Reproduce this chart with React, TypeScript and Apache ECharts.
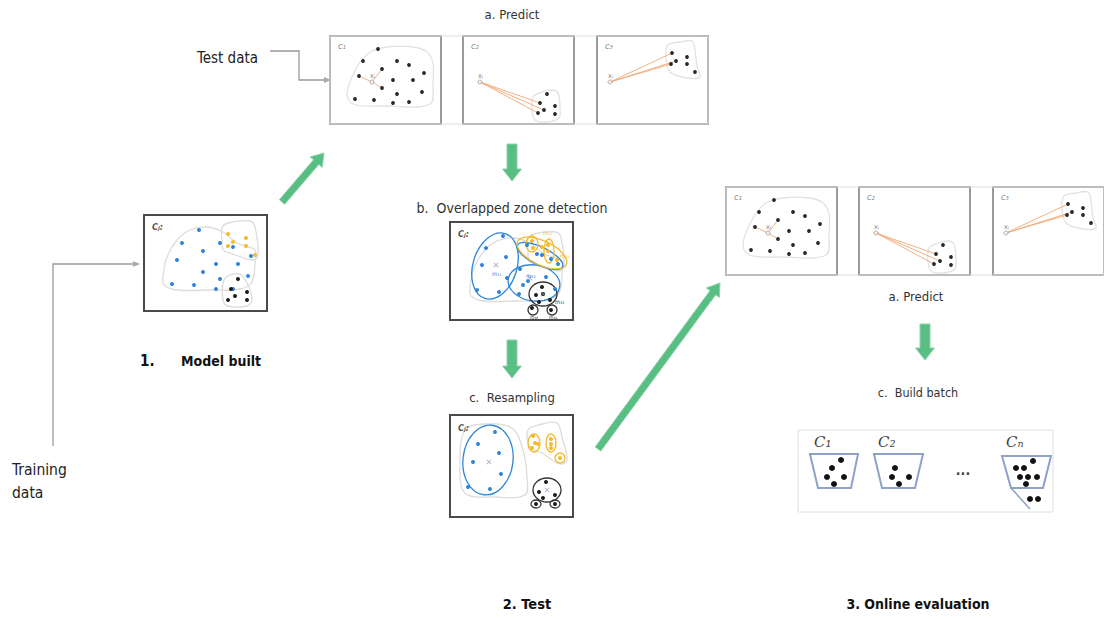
import React, { useEffect, useRef } from "react";
import * as echarts from "echarts";

const FONT = "'DejaVu Sans Condensed', 'Liberation Sans Narrow', 'Roboto', sans-serif";

// ---------- Predict panels (local coordinates inside each panel) ----------
const predictC1Points = [[48,14],[33,26],[67,26],[79,30],[94,38],[52,34],[29,41],[63,45],[83,45],[52,53],[67,59],[92,57],[25,64],[44,65],[63,68],[79,67]];
const predictC1Query = [42, 47];
const predictC1Neighbors = [[52,34],[29,41],[52,53]];
const predictC1Hull = [[17,58],[27,32],[40,17],[57,12],[83,12],[97,17],[103,28],[103,48],[100,69],[57,71],[23,69]];

const predictC2Points = [[84,59],[77,68],[92,71],[81,75],[75,78],[92,79]];
const predictC2Query = [17, 47];
const predictC2Neighbors = [[77,68],[81,75],[75,78]];
const predictC2Hull = [[70,62],[79,57],[89,55],[95,58],[97,72],[96,83],[84,87],[72,85],[69,75]];

const predictC3Points = [[75,18],[90,22],[79,26],[74,29],[90,29],[98,37]];
const predictC3Query = [13, 47];
const predictC3Neighbors = [[75,18],[79,26],[74,29]];
const predictC3Hull = [[71,10],[83,7],[95,6],[98,15],[100,32],[103,42],[90,43],[73,37],[69,22]];

const predictLabels = ["c\u2081", "c\u2082", "c\u2083"];

// ---------- Model built panel ----------
const modelBlue = [[55,15],[38,28],[76,28],[59,36],[33,45],[72,49],[94,49],[59,57],[104,61],[76,64],[28,69],[50,70],[72,74],[89,32],[107,41],[89,74]];
const modelYellow = [[84,19],[102,23],[89,27],[84,31],[102,31],[111,40]];
const modelBlack = [[94,64],[87,74],[91,81],[103,77],[84,85],[103,85]];
const hullBig = [[19,62],[23,42],[33,25],[46,15],[63,12],[79,17],[93,28],[111,35],[111,48],[108,67],[96,74],[63,75],[33,75],[20,70]];
const hullTop = [[78,13],[84,8],[106,6],[111,12],[114,40],[109,45],[86,38],[79,35],[78,25]];
const hullBottom = [[79,68],[84,61],[96,59],[104,70],[108,85],[103,91],[84,91],[79,85]];

// ---------- Overlapped zone detection panel ----------
const overBlue = [[53,14],[36,26],[56,35],[32,43],[57,56],[27,68],[49,70],[70,47],[73,63],[69,72],[96,55],[105,67],[77,23],[87,32],[101,37],[108,42],[92,33],[78,59]];
const overYellow = [[82,19],[83,26],[92,25],[98,23],[98,29],[107,38]];
const overBlack = [[92,65],[86,73],[93,72],[100,78],[89,80],[82,86],[101,88]];
const overCentroids = [[46,43],[80,56],[93,72]];

// ---------- Resampling panel ----------
const resBlue = [[45,17],[28,29],[49,38],[23,47],[51,59],[18,72],[40,74]];
const resYellow = [[83,21],[85,28],[88,29],[82,33],[101,24],[101,29],[101,33],[110,43]];
const resBlack = [[96,67],[89,77],[105,80],[93,83],[86,89],[105,89]];
const resCentroids = [[39,47],[97,75]];
const resHullLeft = [[15,15],[35,9],[62,13],[73,35],[77,62],[75,80],[45,82],[15,78],[10,48]];
const resHullRight = [[78,15],[92,9],[107,8],[112,22],[117,45],[110,49],[92,38],[80,32]];

// ---------- Build batch ----------
const batchC1 = [[43,30],[34,38],[29,47],[46,47],[36,54]];
const batchC2 = [[97,38],[94,47],[111,47],[101,54]];
const batchCn = [[235,31],[218,38],[226,38],[222,47],[230,47],[239,47],[228,54],[232,69],[240,69]];
const batchLabels = ["C\u2081", "C\u2082", "C\u2099"];

// layout origins
const topStrip = [[330,35],[463,35],[597,35]];
const bottomStrip = [[726,186],[859,186],[993,186]];
const modelOrigin = [144,215];
const overOrigin = [450,222];
const resOrigin = [450,415];
const batchOrigin = [798,430];

const BLUE = "#2f86d8";
const YELLOW = "#f6b92b";
const BLACK = "#1e1e1e";
const GREEN = "#58be84";

function shift(pts: number[][], o: number[]) {
  return pts.map((p) => [p[0] + o[0], p[1] + o[1]]);
}

function dots(pts: number[][], o: number[], color: string, size: number, z = 5): any {
  return {
    type: "scatter",
    data: shift(pts, o),
    symbol: "circle",
    symbolSize: size,
    itemStyle: { color, opacity: 1 },
    silent: true,
    z,
  };
}

function arrowPoints(x1: number, y1: number, x2: number, y2: number, sw: number, hw: number, hl: number) {
  const dx = x2 - x1, dy = y2 - y1;
  const len = Math.sqrt(dx * dx + dy * dy);
  const ux = dx / len, uy = dy / len;
  const px = -uy, py = ux;
  const bx = x2 - ux * hl, by = y2 - uy * hl;
  return [
    [x1 + px * sw / 2, y1 + py * sw / 2],
    [bx + px * sw / 2, by + py * sw / 2],
    [bx + px * hw / 2, by + py * hw / 2],
    [x2, y2],
    [bx - px * hw / 2, by - py * hw / 2],
    [bx - px * sw / 2, by - py * sw / 2],
    [x1 - px * sw / 2, y1 - py * sw / 2],
  ];
}

function text(t: string, x: number, y: number, size: number, opts: any = {}) {
  return {
    type: "text",
    z: 20,
    silent: true,
    style: {
      text: t,
      x,
      y,
      fill: opts.fill || "#222",
      fontSize: size,
      fontFamily: opts.family || FONT,
      fontWeight: opts.bold ? "bold" : "normal",
      fontStyle: opts.italic ? "italic" : "normal",
      align: opts.align || "left",
      verticalAlign: "middle",
      textAlign: opts.align || "left",
      textVerticalAlign: "middle",
    },
  };
}

function hull(pts: number[][], o: number[], stroke = "#dcdcdc") {
  return {
    type: "polygon",
    z: 1,
    silent: true,
    shape: { points: shift(pts, o), smooth: 0.35 },
    style: { fill: "none", stroke, lineWidth: 1.3 },
  };
}

function ellipse(cx: number, cy: number, rx: number, ry: number, rot: number, o: number[], stroke: string) {
  return {
    type: "ellipse",
    z: 3,
    silent: true,
    x: o[0] + cx,
    y: o[1] + cy,
    rotation: rot,
    shape: { cx: 0, cy: 0, rx, ry },
    style: { fill: "none", stroke, lineWidth: 1.3 },
  };
}

function frame(x: number, y: number, w: number, h: number, stroke: string, lw: number) {
  return {
    type: "rect",
    z: 2,
    silent: true,
    shape: { x, y, width: w, height: h },
    style: { fill: "none", stroke, lineWidth: lw },
  };
}

function App() {
  const ref = useRef<HTMLDivElement>(null);
  useEffect(() => {
    if (!ref.current) return;
    const chart = echarts.init(ref.current, undefined, { renderer: "svg" });

    const series: any[] = [];
    const graphic: any[] = [];

    const predictSets = [
      { pts: predictC1Points, q: predictC1Query, nb: predictC1Neighbors, hull: predictC1Hull },
      { pts: predictC2Points, q: predictC2Query, nb: predictC2Neighbors, hull: predictC2Hull },
      { pts: predictC3Points, q: predictC3Query, nb: predictC3Neighbors, hull: predictC3Hull },
    ];

    [topStrip, bottomStrip].forEach((strip) => {
      graphic.push(frame(strip[0][0], strip[0][1] + 1, strip[2][0] + 111 - strip[0][0], 88, "#dedede", 1));
      strip.forEach((o, i) => {
        const s = predictSets[i];
        graphic.push({
          type: "rect", z: 1, silent: true,
          shape: { x: o[0], y: o[1] + 1, width: 111, height: 88 },
          style: { fill: "#fff", stroke: "#9a9a9a", lineWidth: 2 },
        });
        graphic.push(hull(s.hull, o, "#e2e2e2"));
        graphic.push(text(predictLabels[i], o[0] + 8, o[1] + 11, 9, { fill: "#888", italic: true }));
        graphic.push(text("x\u2C7C", o[0] + s.q[0] - 2, o[1] + s.q[1] - 6, 7, { fill: "#888" }));
        series.push({
          type: "lines",
          coordinateSystem: "cartesian2d",
          silent: true,
          z: 3,
          lineStyle: { color: "#f2a878", width: 1, opacity: 0.9 },
          data: s.nb.map((n) => ({ coords: [[o[0] + s.q[0], o[1] + s.q[1]], [o[0] + n[0], o[1] + n[1]]] })),
        });
        series.push(dots(s.pts, o, "#2a2a2a", 3.8));
        series.push({
          type: "scatter", silent: true, z: 6,
          data: shift([s.q], o), symbol: "circle", symbolSize: 4,
          itemStyle: { color: "#fff", borderColor: "#999", borderWidth: 1 },
        });
      });
    });

    // model built panel
    const mo = modelOrigin;
    graphic.push({ type: "rect", z: 1, silent: true, shape: { x: mo[0], y: mo[1], width: 123, height: 96 }, style: { fill: "#fff", stroke: "#4a4a4a", lineWidth: 2 } });
    graphic.push(hull(hullBig, mo), hull(hullTop, mo), hull(hullBottom, mo));
    graphic.push(text("C\u2C7C:", mo[0] + 8, mo[1] + 12, 9, { fill: "#555", bold: true, italic: true }));
    series.push(dots(modelBlue, mo, BLUE, 4), dots(modelYellow, mo, YELLOW, 4), dots(modelBlack, mo, BLACK, 4));

    // overlapped zone panel
    const oo = overOrigin;
    graphic.push({ type: "rect", z: 1, silent: true, shape: { x: oo[0], y: oo[1], width: 123, height: 98 }, style: { fill: "#fff", stroke: "#4a4a4a", lineWidth: 2 } });
    graphic.push(hull(shift(hullBig, [1, 8]), [oo[0], oo[1] - 4]), hull(hullTop, [oo[0], oo[1] + 4]));
    graphic.push(
      ellipse(45, 44, 22, 34, -0.3, oo, BLUE),
      ellipse(84, 61, 26, 18, -0.15, oo, BLUE),
      ellipse(90, 34, 25, 9, -0.45, oo, BLUE),
      ellipse(92, 31, 27, 12, -0.45, oo, YELLOW),
      ellipse(82, 22, 6, 8, 0, oo, YELLOW),
      ellipse(99, 29, 5, 12, 0, oo, YELLOW),
      ellipse(93, 72, 14, 12, 0, oo, "#333"),
      ellipse(83, 88, 5, 5, 0, oo, "#333"),
      ellipse(102, 88, 5, 5, 0, oo, "#333"),
    );
    graphic.push(text("C\u2C7C:", oo[0] + 8, oo[1] + 12, 9, { fill: "#555", bold: true, italic: true }));
    graphic.push(
      text("m\u2081\u2081", oo[0] + 42, oo[1] + 51, 6, { fill: BLUE }),
      text("m\u2081\u2082", oo[0] + 76, oo[1] + 53, 6, { fill: BLUE }),
      text("m\u2082\u2081", oo[0] + 93, oo[1] + 10, 6, { fill: YELLOW }),
      text("m\u2082\u2082", oo[0] + 110, oo[1] + 33, 6, { fill: YELLOW }),
      text("m\u2083\u2081", oo[0] + 105, oo[1] + 79, 6, { fill: "#333" }),
      text("m\u2083\u2082", oo[0] + 80, oo[1] + 95, 5, { fill: "#333" }),
      text("m\u2083\u2083", oo[0] + 99, oo[1] + 95, 5, { fill: "#333" }),
    );
    series.push(dots(overBlue, oo, BLUE, 4), dots(overYellow, oo, YELLOW, 4), dots(overBlack, oo, BLACK, 4));
    series.push({
      type: "scatter", silent: true, z: 6, data: shift(overCentroids, oo),
      symbol: "path://M1,0L5,4L9,0L10,1L6,5L10,9L9,10L5,6L1,10L0,9L4,5L0,1Z", symbolSize: 5,
      itemStyle: { color: "#7c8fb0" },
    });

    // resampling panel
    const ro = resOrigin;
    graphic.push({ type: "rect", z: 1, silent: true, shape: { x: ro[0], y: ro[1], width: 123, height: 102 }, style: { fill: "#fff", stroke: "#4a4a4a", lineWidth: 2 } });
    graphic.push(hull(resHullLeft, ro), hull(resHullRight, ro));
    graphic.push(
      ellipse(38, 45, 25, 35, -0.12, ro, BLUE),
      ellipse(84, 28, 6, 9, 0, ro, YELLOW),
      ellipse(101, 28, 5, 9, 0, ro, YELLOW),
      ellipse(110, 43, 5, 5, 0, ro, YELLOW),
      ellipse(97, 75, 14, 12, 0, ro, "#333"),
      ellipse(86, 89, 5, 4, 0, ro, "#333"),
      ellipse(105, 89, 5, 4, 0, ro, "#333"),
    );
    graphic.push(text("C\u2C7C:", ro[0] + 8, ro[1] + 13, 9, { fill: "#555", bold: true, italic: true }));
    series.push(dots(resBlue, ro, BLUE, 4), dots(resYellow, ro, YELLOW, 4), dots(resBlack, ro, BLACK, 4));
    series.push({
      type: "scatter", silent: true, z: 6, data: shift(resCentroids, ro),
      symbol: "path://M1,0L5,4L9,0L10,1L6,5L10,9L9,10L5,6L1,10L0,9L4,5L0,1Z", symbolSize: 5,
      itemStyle: { color: "#7c8fb0" },
    });

    // build batch panel
    const bo = batchOrigin;
    graphic.push(frame(bo[0], bo[1], 255, 82, "#e0e0e0", 1));
    const buckets = [
      [[12,24],[60,24],[53,58],[20,58]],
      [[76,24],[125,24],[117,58],[84,58]],
      [[204,26],[253,26],[245,58],[213,58]],
    ];
    buckets.forEach((b, i) => {
      graphic.push({
        type: "polygon", z: 3, silent: true,
        shape: { points: shift(b, bo) },
        style: { fill: "none", stroke: "#8ea2c6", lineWidth: 2 },
      });
      graphic.push(text(batchLabels[i], bo[0] + b[0][0] + 4, bo[1] + 12, 15, { fill: "#444", italic: true, family: "'DejaVu Serif', serif" }));
    });
    graphic.push({
      type: "line", z: 3, silent: true,
      shape: { x1: bo[0] + 213, y1: bo[1] + 58, x2: bo[0] + 232, y2: bo[1] + 79 },
      style: { stroke: "#8ea2c6", lineWidth: 1.5 },
    });
    graphic.push(text("...", bo[0] + 165, bo[1] + 40, 14, { fill: "#444", bold: true, align: "center" }));
    series.push(dots(batchC1, bo, "#111", 6), dots(batchC2, bo, "#111", 6), dots(batchCn, bo, "#111", 6));

    // green arrows
    const arrows = [
      [282, 202, 324, 153, 7, 16, 12],
      [512, 144, 512, 181, 10, 19, 12],
      [512, 340, 512, 378, 10, 19, 12],
      [925, 324, 925, 360, 10, 19, 12],
      [598, 449, 720, 283, 7, 16, 12],
    ];
    arrows.forEach((a) => {
      graphic.push({
        type: "polygon", z: 4, silent: true,
        shape: { points: arrowPoints(a[0], a[1], a[2], a[3], a[4], a[5], a[6]) },
        style: { fill: GREEN, stroke: "#8fd3ab", lineWidth: 1 },
      });
    });

    // gray connectors
    graphic.push({
      type: "polyline", z: 4, silent: true,
      shape: { points: [[270, 51], [299, 51], [299, 80], [325, 80]] },
      style: { stroke: "#9a9a9a", lineWidth: 1.3, fill: "none" },
    });
    graphic.push({ type: "polygon", z: 4, silent: true, shape: { points: [[324, 77], [331, 80], [324, 83]] }, style: { fill: "#aaa" } });
    graphic.push({
      type: "polyline", z: 4, silent: true,
      shape: { points: [[53, 446], [53, 264], [134, 264]] },
      style: { stroke: "#9a9a9a", lineWidth: 1.3, fill: "none" },
    });
    graphic.push({ type: "polygon", z: 4, silent: true, shape: { points: [[133, 261], [140, 264], [133, 267]] }, style: { fill: "#aaa" } });

    // texts
    graphic.push(
      text("a. Predict", 512, 14, 13, { align: "center", fill: "#333" }),
      text("Test data", 197, 58, 15, { fill: "#222" }),
      text("b.  Overlapped zone detection", 512, 208, 14, { align: "center", fill: "#333" }),
      text("c.  Resampling", 512, 397, 13, { align: "center", fill: "#333" }),
      text("1.", 140, 361, 15, { bold: true, fill: "#111" }),
      text("Model built", 181, 361, 14, { bold: true, fill: "#111" }),
      text("Training", 12, 470, 15.5, { fill: "#222" }),
      text("data", 12, 493, 15.5, { fill: "#222" }),
      text("2. Test", 527, 604, 14.5, { bold: true, align: "center", fill: "#111" }),
      text("3. Online evaluation", 918, 604, 14, { bold: true, align: "center", fill: "#111" }),
      text("a. Predict", 916, 296, 13, { align: "center", fill: "#333" }),
      text("c.  Build batch", 918, 392, 12.5, { align: "center", fill: "#333" }),
    );

    chart.setOption({
      animation: false,
      backgroundColor: "#ffffff",
      grid: { left: 0, right: 0, top: 0, bottom: 0 },
      xAxis: { type: "value", min: 0, max: 1104, show: false },
      yAxis: { type: "value", min: 0, max: 619, inverse: true, show: false },
      tooltip: { show: false },
      series,
      graphic,
    });
    return () => chart.dispose();
  }, []);
  return <div ref={ref} style={{ position: "absolute", left: 0, top: 0, width: 1104, height: 619 }} />;
}

export default App;
